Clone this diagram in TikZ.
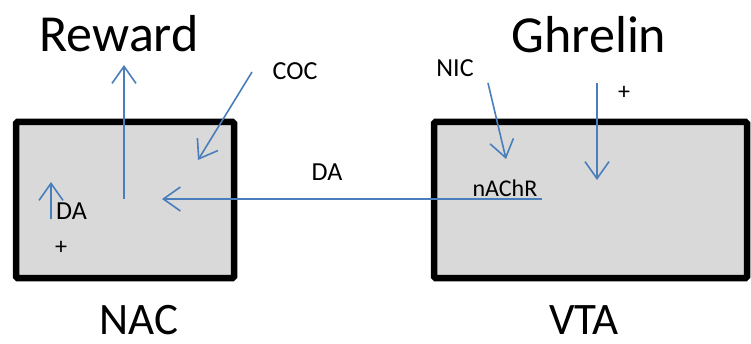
\documentclass[tikz,border=0pt]{standalone}
\usepackage{fontspec}
\setmainfont{Carlito}
\usepackage{tikz}
\usetikzlibrary{arrows.meta, positioning}

\definecolor{flowblue}{HTML}{4A7EBB}
\definecolor{boxgray}{HTML}{D9D9D9}

\tikzset{
  region/.style={draw=black, fill=boxgray, line width=6.5pt, rounded corners=1.5pt, inner sep=0pt},
  flow/.style={draw=flowblue, line width=1.6pt, -{Straight Barb[length=17pt,width=24pt]}},
  heading/.style={anchor=base, inner sep=0pt, font=\fontsize{52}{60}\selectfont},
  area/.style={anchor=base, inner sep=0pt, font=\fontsize{45}{52}\selectfont},
  tag/.style={anchor=base, inner sep=0pt, font=\fontsize{26}{30}\selectfont},
  sign/.style={inner sep=0pt, font=\fontsize{24}{28}\selectfont}
}

\begin{document}
\begin{tikzpicture}[x=1pt, y=-1pt]
\useasboundingbox (0,0) rectangle (751,344);

% the two brain regions
\node[region, minimum width=218pt, minimum height=156pt] (nac) at (125,200) {};
\node[region, minimum width=313pt, minimum height=156pt] (vta) at (590.5,200) {};

% headings
\node[heading] (reward) at (119,52) {Reward};
\node[heading] (ghrelin) at (589,53) {Ghrelin};
\node[area] (nacname) at (139,334) {NAC};
\node[area] (vtaname) at (584,334) {VTA};

% drug and transmitter labels
\node[tag] (coc) at (295,80) {COC};
\node[tag] (nic) at (455,77) {NIC};
\node[tag] (damid) at (327,181) {DA};
\node[tag, font=\fontsize{24}{28}\selectfont] (nachr) at (505,197) {nAChR};
\node[tag] (daleft) at (71.5,220) {DA};
\node[sign] (plusvta) at (624,93) {+};
\node[sign] (plusnac) at (61,248) {+};

% arrow ends
\coordinate (rwdfoot) at (124,199);
\coordinate (rwdtip) at (124,65);
\coordinate (cocfoot) at (252,72);
\coordinate (coctip) at (198,160);
\coordinate (dafoot) at (542,199);
\coordinate (datip) at (162,199);
\coordinate (risefoot) at (51,219);
\coordinate (risetip) at (51,182);
\coordinate (nicfoot) at (488,83);
\coordinate (nictip) at (506,159);
\coordinate (ghrfoot) at (597,83);
\coordinate (ghrtip) at (597,180);

\draw[flow] (rwdfoot) -- (rwdtip);
\draw[flow] (cocfoot) -- (coctip);
\draw[flow] (dafoot) -- (datip);
\draw[flow] (risefoot) -- (risetip);
\draw[flow] (nicfoot) -- (nictip);
\draw[flow] (ghrfoot) -- (ghrtip);
\end{tikzpicture}
\end{document}
